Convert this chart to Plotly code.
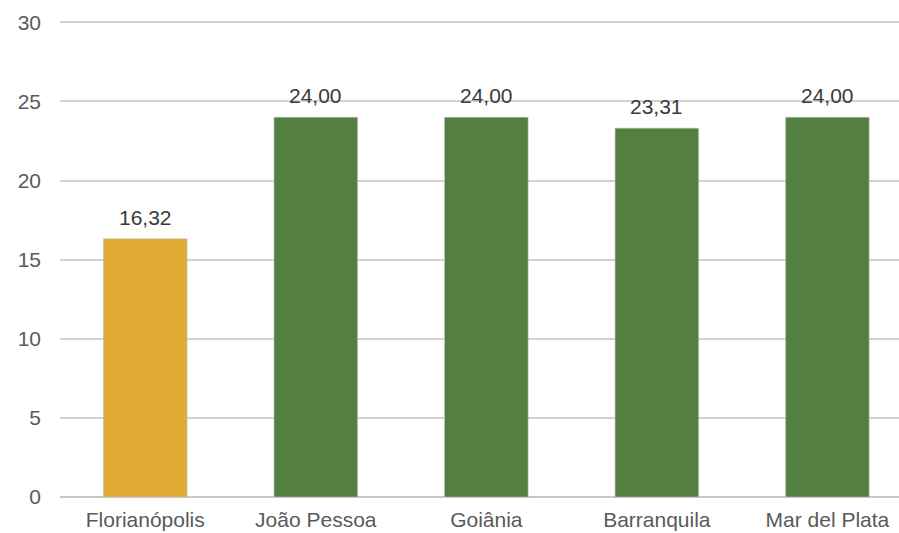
import plotly.graph_objects as go

cities = ["Florianópolis", "João Pessoa", "Goiânia", "Barranquila", "Mar del Plata"]
values = [16.32, 24.00, 24.00, 23.31, 24.00]
colors = ["#E0AC33", "#538040", "#538040", "#538040", "#538040"]
value_labels = ["16,32", "24,00", "24,00", "23,31", "24,00"]
y_ticks = [0, 5, 10, 15, 20, 25, 30]

FONT = "Liberation Sans, Arial"

fig = go.Figure()
fig.add_trace(go.Bar(
    x=cities,
    y=values,
    marker=dict(color=colors, line=dict(color="rgba(190,190,190,0.6)", width=1)),
    width=0.49,
    hoverinfo="skip",
))

for c, v, t in zip(cities, values, value_labels):
    fig.add_annotation(
        x=c, y=v, text=t, showarrow=False,
        yanchor="bottom", yshift=8,
        font=dict(family=FONT, size=21, color="#3a3a3a"),
    )

fig.update_layout(
    width=899, height=533,
    margin=dict(l=60, r=0, t=20, b=36),
    plot_bgcolor="white", paper_bgcolor="white",
    showlegend=False,
    xaxis=dict(
        range=[-0.5, 4.42],
        showgrid=False, showline=False, zeroline=False,
        ticks="", ticklabelstandoff=8,
        tickfont=dict(family=FONT, size=21, color="#5a5a5a"),
    ),
    yaxis=dict(
        range=[0, 30.15], tickvals=y_ticks,
        showgrid=True, gridcolor="#d2d2d2", gridwidth=1.6,
        zeroline=True, zerolinecolor="#c8c8c8", zerolinewidth=1.6,
        showline=False, ticks="", ticklabelstandoff=18,
        tickfont=dict(family=FONT, size=21, color="#5a5a5a"),
    ),
)

fig.write_html("out.html")
